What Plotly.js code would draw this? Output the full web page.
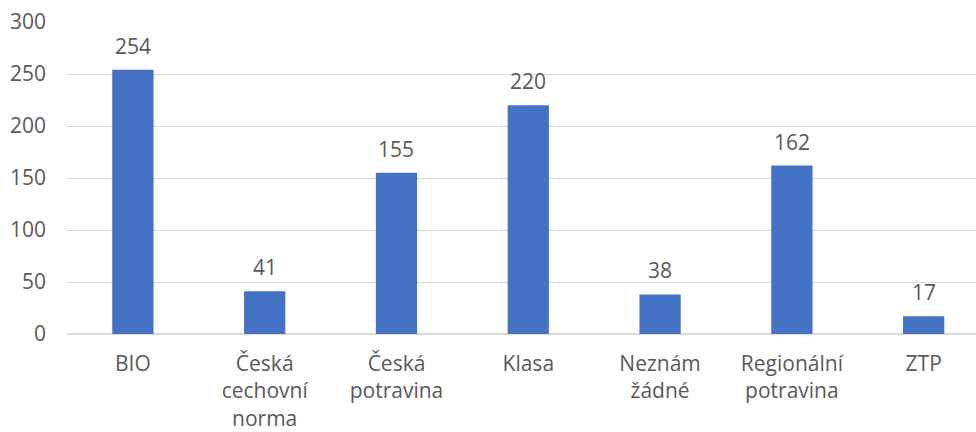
<!DOCTYPE html>
<html>
<head>
<meta charset="utf-8">
<script src="https://cdn.plot.ly/plotly-3.0.1.min.js"></script>
<style>html,body{margin:0;padding:0;background:#fff;}#chart{width:976px;height:432px;}</style>
</head>
<body>
<div id="chart"></div>
<script>
const categories = ["BIO", "Česká<br>cechovní<br>norma", "Česká<br>potravina", "Klasa", "Neznám<br>žádné", "Regionální<br>potravina", "ZTP"];
const values = [254, 41, 155, 220, 38, 162, 17];
const yTicks = [0, 50, 100, 150, 200, 250, 300];

const FONT = "'Open Sans', 'Noto Sans', sans-serif";
const GREY = "#595959";

const trace = {
  type: "bar",
  x: categories,
  y: values,
  marker: {color: "#4472C4"},
  width: 0.313,
  hoverinfo: "none"
};

const annotations = categories.map((c, i) => ({
  x: c, y: values[i], xref: "x", yref: "y",
  text: String(values[i]), showarrow: false,
  yanchor: "bottom", yshift: 8,
  font: {family: FONT, size: 21, color: GREY}
}));

const layout = {
  width: 976, height: 432,
  margin: {l: 67, r: 0, t: 22, b: 98},
  paper_bgcolor: "#fff", plot_bgcolor: "#fff",
  showlegend: false,
  font: {family: FONT, size: 21, color: GREY},
  xaxis: {
    type: "category",
    range: [-0.5, 6.397],
    showgrid: false, zeroline: false, showline: false,
    ticks: "", ticklabelstandoff: 15,
    tickfont: {family: FONT, size: 21, color: GREY},
    fixedrange: true
  },
  yaxis: {
    range: [0, 300],
    tickvals: yTicks,
    ticktext: yTicks.map(String),
    showgrid: true, gridcolor: "#d9d9d9", gridwidth: 1,
    zeroline: true, zerolinecolor: "#d9d9d9", zerolinewidth: 1.5,
    showline: false, ticks: "", ticklabelstandoff: 20,
    tickfont: {family: FONT, size: 21, color: GREY},
    fixedrange: true
  },
  annotations: annotations
};

Plotly.newPlot("chart", [trace], layout, {staticPlot: true, displayModeBar: false});
</script>
</body>
</html>
